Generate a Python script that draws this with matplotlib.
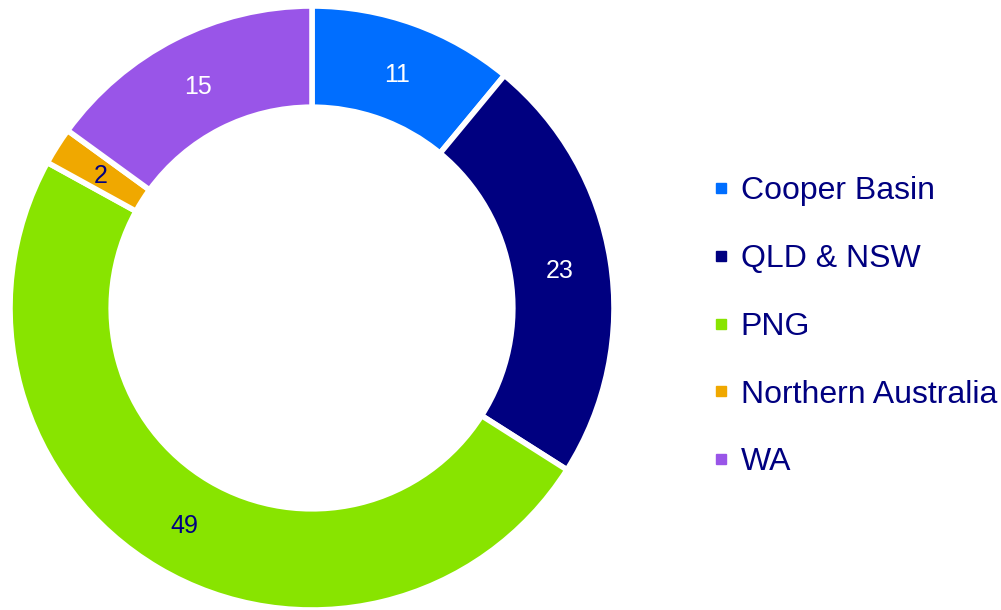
import matplotlib.pyplot as plt
from matplotlib.lines import Line2D
import numpy as np

plt.rcParams['font.family'] = ['Liberation Sans', 'DejaVu Sans']

regiones = ['Cooper Basin', 'QLD & NSW', 'PNG', 'Northern Australia', 'WA']
valores = [11, 23, 49, 2, 15]
colores = ['#006EFF', '#000080', '#88E400', '#F0A800', '#9955E8']
color_etiqueta = ['white', 'white', '#000080', '#000080', 'white']
azul_texto = '#000080'

fig = plt.figure(figsize=(10.01, 6.10), dpi=100)
ax = fig.add_axes([10 / 1001, 0 / 610, 604 / 1001, 604 / 610])

cunas, textos = ax.pie(valores, colors=colores, startangle=90, counterclock=False,
                       radius=1, wedgeprops=dict(width=0.335, edgecolor='white', linewidth=4))

# etiquetas de valor en el centro del anillo
for cuna, v, c in zip(cunas, valores, color_etiqueta):
    ang = np.deg2rad((cuna.theta1 + cuna.theta2) / 2)
    r = 0.83
    ax.text(r * np.cos(ang), r * np.sin(ang), str(v), ha='center', va='center_baseline',
            fontsize=18, color=c)

ax.set_xlim(-1, 1)
ax.set_ylim(-1, 1)
ax.set_aspect('equal')
ax.axis('off')

manijas = [Line2D([0], [0], marker='s', linestyle='', markersize=7,
                  markerfacecolor=c, markeredgecolor=c) for c in colores]
ley = fig.legend(manijas, regiones, loc='upper left', bbox_to_anchor=(712 / 1001, 1 - 176 / 610),
                 frameon=False, fontsize=23, handlelength=0.55, handletextpad=0.35,
                 labelspacing=1.185, borderpad=0, borderaxespad=0)
for t in ley.get_texts():
    t.set_color(azul_texto)

fig.savefig('out.png', dpi=100)
